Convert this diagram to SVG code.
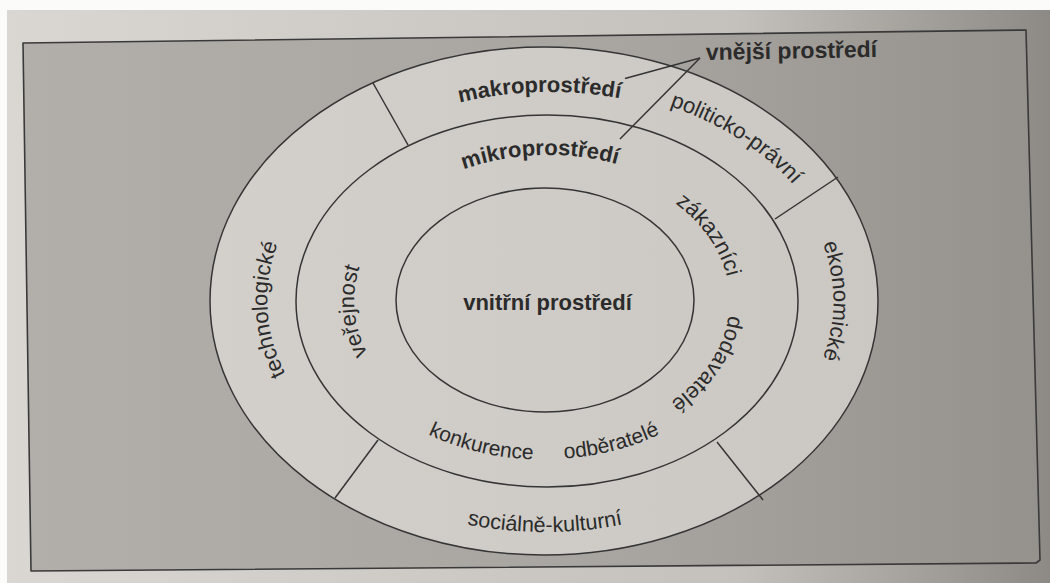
<svg xmlns="http://www.w3.org/2000/svg" xmlns:xlink="http://www.w3.org/1999/xlink" width="1050" height="583" viewBox="0 0 1050 583">
<style>
.ln{fill:none;stroke:#353535;stroke-width:1.5}
.ring{stroke:#353535;stroke-width:1.5}
.t{font-family:"Liberation Sans",Arial,sans-serif;fill:#2b2b2b;font-size:22px}
.b{font-weight:bold}
</style>
<defs>
<linearGradient id="paper" x1="0" y1="0" x2="1" y2="0">
<stop offset="0" stop-color="#dad7d2"/><stop offset="0.7" stop-color="#c4c0bb"/><stop offset="1" stop-color="#8d8984"/>
</linearGradient>
<linearGradient id="box" x1="0" y1="0" x2="1" y2="0">
<stop offset="0" stop-color="#b2afaa"/><stop offset="0.6" stop-color="#a8a49f"/><stop offset="1" stop-color="#95918c"/>
</linearGradient>
<linearGradient id="disc" x1="0" y1="0" x2="1" y2="0">
<stop offset="0" stop-color="#d3d0cb"/><stop offset="1" stop-color="#cbc7c2"/>
</linearGradient>
<path id="pMakro" d="M298.2,196.5 A285,209 0 0 1 791.8,196.5"/>
<path id="pMikro" d="M375.3,228 A196,146 0 0 1 714.7,228"/>
<path id="pPol" d="M669.7,106.1 A295,215 0 0 1 822.2,374.5"/>
<path id="pTech" d="M397.7,476.3 A279,208 0 0 1 381,132.7"/>
<path id="pVer" d="M422.2,410.3 A191,143 0 0 1 405.3,203.5"/>
<path id="pEko" d="M710.2,125.5 A288,214 0 0 1 710.2,476.5"/>
<path id="pZak" d="M609.1,171.7 A184.7,137.9 0 0 1 718.2,348.8"/>
<path id="pDod" d="M717.4,251.6 A184.7,137.9 0 0 1 611.2,429.7"/>
<path id="pKon" d="M351.2,368.9 A212.2,157.9 0 0 0 633.7,444.5"/>
<path id="pOdb" d="M459.7,445.4 A212.2,157.9 0 0 0 739.2,365.8"/>
<path id="pSoc" d="M310.6,449.5 A306,231 0 0 0 779.4,449.5"/>
</defs>

<g id="background">
<rect x="0" y="0" width="1050" height="583" fill="#fbfbfa"/>
<rect x="7" y="10" width="1043" height="573" fill="url(#paper)"/>
<path d="M23,43 L1026,30 L1040,560 L1036,563 L31,571 Z" fill="url(#box)" stroke="#3a3a3a" stroke-width="1.6" stroke-linejoin="round"/>
</g>

<g id="makroprostredi-ring">
<ellipse cx="544" cy="301" rx="334" ry="254" fill="url(#disc)" class="ring"/>
</g>
<g id="mikroprostredi-ring">
<ellipse cx="547" cy="301" rx="251" ry="186" fill="none" class="ring"/>
</g>
<g id="vnitrni-prostredi">
<ellipse cx="545" cy="300" rx="149" ry="112" fill="none" class="ring"/>
<text class="t b" x="547.5" y="310" text-anchor="middle">vnitřní prostředí</text>
</g>

<g id="dividers">
<line class="ln" x1="373" y1="83" x2="408" y2="145"/>
<line class="ln" x1="775" y1="219" x2="838" y2="177"/>
<line class="ln" x1="335" y1="498" x2="378" y2="440"/>
<line class="ln" x1="717" y1="442" x2="763" y2="500"/>
</g>

<g id="connectors">
<line class="ln" x1="700" y1="58" x2="625" y2="78.5"/>
<line class="ln" x1="700" y1="58" x2="620" y2="139"/>
</g>

<g id="vnejsi-prostredi">
<text class="t b" x="706" y="60" style="font-size:23px" transform="rotate(-1 706 60)">vnější prostředí</text>
</g>

<g id="label-makroprostredi">
<text class="t b" transform="rotate(-1.5 545 301)"><textPath xlink:href="#pMakro" href="#pMakro" startOffset="50%" text-anchor="middle">makroprostředí</textPath></text>
</g>
<g id="label-mikroprostredi">
<text class="t b" transform="rotate(-2 545 301)"><textPath xlink:href="#pMikro" href="#pMikro" startOffset="50%" text-anchor="middle">mikroprostředí</textPath></text>
</g>
<g id="politicko-pravni">
<text class="t"><textPath xlink:href="#pPol" href="#pPol" startOffset="0">politicko-právní</textPath></text>
</g>
<g id="technologicke">
<text class="t"><textPath xlink:href="#pTech" href="#pTech" startOffset="50%" text-anchor="middle">technologické</textPath></text>
</g>
<g id="verejnost">
<text class="t"><textPath xlink:href="#pVer" href="#pVer" startOffset="50%" text-anchor="middle">veřejnost</textPath></text>
</g>
<g id="ekonomicke">
<text class="t"><textPath xlink:href="#pEko" href="#pEko" startOffset="50%" text-anchor="middle">ekonomické</textPath></text>
</g>
<g id="zakaznici">
<text class="t"><textPath xlink:href="#pZak" href="#pZak" startOffset="50%" text-anchor="middle">zákazníci</textPath></text>
</g>
<g id="dodavatele">
<text class="t"><textPath xlink:href="#pDod" href="#pDod" startOffset="50%" text-anchor="middle">dodavatelé</textPath></text>
</g>
<g id="konkurence">
<text class="t" style="font-size:21px"><textPath xlink:href="#pKon" href="#pKon" startOffset="50%" text-anchor="middle">konkurence</textPath></text>
</g>
<g id="odberatele">
<text class="t" style="font-size:21px"><textPath xlink:href="#pOdb" href="#pOdb" startOffset="50%" text-anchor="middle">odběratelé</textPath></text>
</g>
<g id="socialne-kulturni">
<text class="t" style="font-size:21.5px"><textPath xlink:href="#pSoc" href="#pSoc" startOffset="50%" text-anchor="middle">sociálně-kulturní</textPath></text>
</g>
</svg>
